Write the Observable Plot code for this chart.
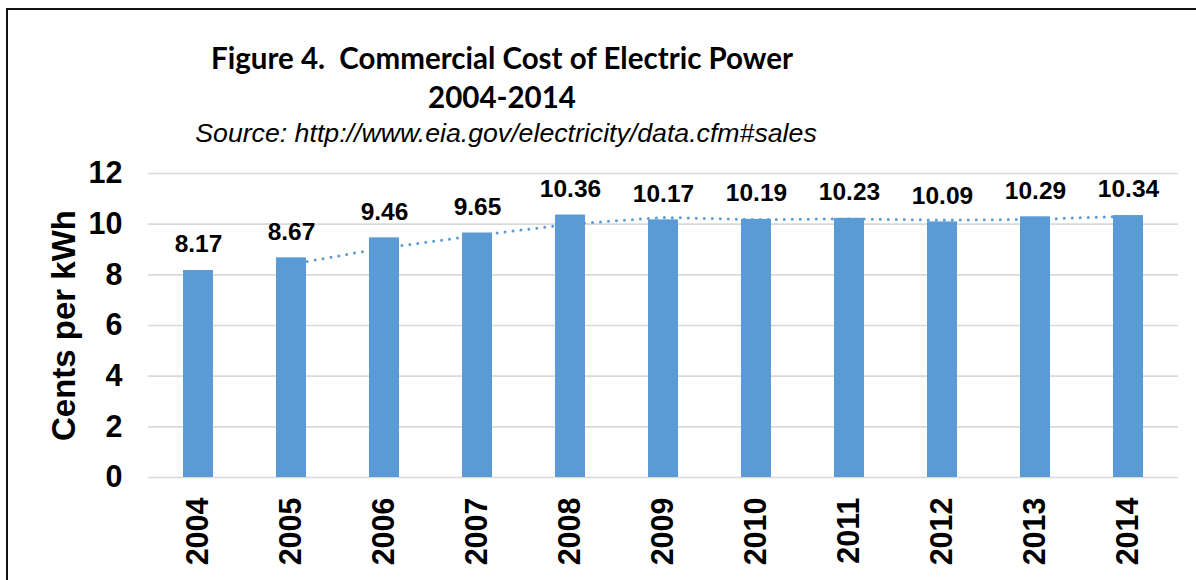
<!DOCTYPE html>
<html><head><meta charset="utf-8">
<script src="https://cdn.jsdelivr.net/npm/d3@7"></script>
<script src="https://cdn.jsdelivr.net/npm/@observablehq/plot@0.6"></script>
<style>
html,body{margin:0;padding:0;background:#fff;overflow:hidden;}
#page{position:relative;width:1196px;height:580px;overflow:hidden;background:#fff;}
#frame{position:absolute;left:6px;top:8px;width:1300px;height:700px;border-left:2px solid #111;border-top:2px solid #111;box-sizing:border-box;}
.t{position:absolute;left:0;width:1004px;text-align:center;white-space:pre;color:#000;}
#title{top:43px;font:700 29.5px/29.5px Lato, "Open Sans", sans-serif;}
#title2{top:82px;font:700 29.5px/29.5px Lato, "Open Sans", sans-serif;}
#source{top:120px;left:4px;font:italic 400 26.7px/26.7px "Liberation Sans", Arial, sans-serif;}
#chart{position:absolute;left:0;top:140px;}
</style>
</head><body>
<div id="page">
  <div id="frame"></div>
  <div class="t" id="title">Figure 4.  Commercial Cost of Electric Power</div>
  <div class="t" id="title2">2004-2014</div>
  <div class="t" id="source">Source: http://www.eia.gov/electricity/data.cfm#sales</div>
  <div id="chart"></div>
</div>
<script>
const years = ["2004","2005","2006","2007","2008","2009","2010","2011","2012","2013","2014"];
const cents = [8.17, 8.67, 9.46, 9.65, 10.36, 10.17, 10.19, 10.23, 10.09, 10.29, 10.34];
const yTicks = [0, 2, 4, 6, 8, 10, 12];
const yLabel = "Cents per kWh";

const data = years.map((year, i) => ({year, value: cents[i]}));
const blue = "#5B9BD5";

const chart = Plot.plot({
  width: 1196, height: 440,
  marginTop: 33, marginBottom: 103, marginLeft: 148, marginRight: 18,
  style: {fontFamily: "'Liberation Sans', Arial, sans-serif", fontWeight: "bold", color: "#000", background: "transparent", overflow: "visible"},
  x: {domain: years, paddingInner: 0.68, paddingOuter: 0.34, label: null},
  y: {domain: [0, 12], label: null},
  marks: [
    Plot.ruleY(yTicks, {stroke: "#d9d9d9", strokeWidth: 1.6}),
    Plot.barY(data, {x: "year", y: "value", fill: blue}),
    Plot.lineY(data, Plot.windowY({k: 2, anchor: "end", strict: true},
      {x: "year", y: "value", stroke: blue, strokeWidth: 3, strokeDasharray: "0 8", strokeLinecap: "round"})),
    Plot.text(data, {x: "year", y: "value", text: d => d.value.toFixed(2), dy: -26, fontSize: 24.5, fontWeight: "bold", fill: "#000"}),
    Plot.axisY(yTicks, {tickSize: 0, tickPadding: 26, fontSize: 30.5, fontWeight: "bold", label: null}),
    Plot.axisX({tickSize: 0, tickPadding: 20, tickRotate: -90, fontSize: 30.5, fontWeight: "bold", label: null}),
    Plot.text([yLabel], {text: d => d, frameAnchor: "left", textAnchor: "middle", rotate: -90, dx: -84, fontSize: 33, fontWeight: "bold", fill: "#000"})
  ]
});
document.getElementById("chart").appendChild(chart);
</script>
</body></html>
